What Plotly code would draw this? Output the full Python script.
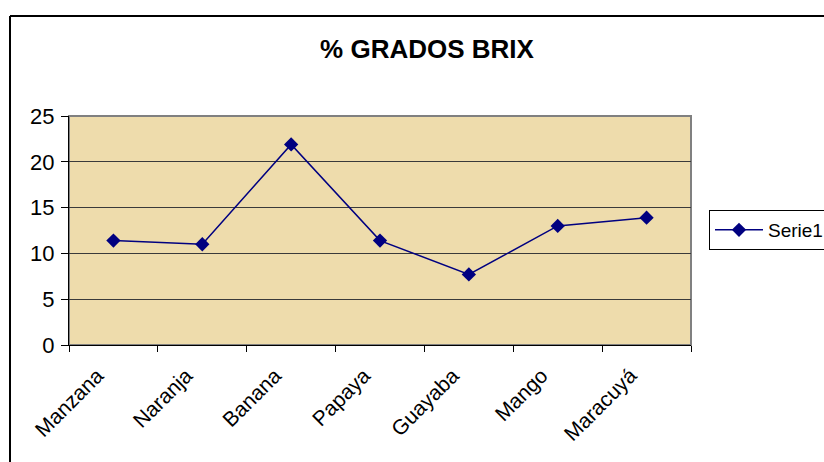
import plotly.graph_objects as go

frutas = ['Manzana', 'Naranja', 'Banana', 'Papaya', 'Guayaba', 'Mango', 'Maracuyá']
brix = [11.4, 11.0, 21.9, 11.4, 7.7, 13.0, 13.9]
serie = 'Serie1'
titulo = '% GRADOS BRIX'

W, H = 824, 462
L, R, T, B = 69, 133, 116, 117
pw, ph = W - L - R, H - T - B

fig = go.Figure()
fig.add_trace(go.Scatter(
    x=frutas, y=brix, name=serie, mode='lines+markers',
    line=dict(color='#000080', width=1.5),
    marker=dict(symbol='diamond', size=11, color='#000080'),
))

fig.update_layout(
    width=W, height=H,
    margin=dict(l=L, r=R, t=T, b=B, autoexpand=False),
    paper_bgcolor='white',
    plot_bgcolor='rgb(238,220,172)',
    font=dict(family='Arial, Liberation Sans', size=19, color='black'),
    title=dict(text='<b>' + titulo + '</b>', font=dict(size=26),
               xref='container', x=427 / W, xanchor='center',
               yref='container', y=1 - 49 / H, yanchor='middle'),
    showlegend=True,
    legend=dict(x=(709 - L) / pw, xanchor='left', y=(345 - 230) / ph, yanchor='middle',
                bordercolor='black', borderwidth=1, bgcolor='white',
                font=dict(size=19), itemwidth=48),
    xaxis=dict(type='category', range=[-0.5, 6.5], tickson='boundaries',
               ticks='outside', ticklen=6, tickcolor='black', tickangle=-45,
               tickfont=dict(size=21), ticklabelshift=-16, ticklabelstandoff=9,
               showline=True, linecolor='black', linewidth=1, showgrid=False),
    yaxis=dict(range=[0, 25], dtick=5, ticks='outside', ticklen=7, tickcolor='black',
               tickfont=dict(size=22), ticklabelstandoff=2,
               showline=True, linecolor='black', linewidth=1,
               showgrid=True, gridcolor='#3a3a3a', gridwidth=1, zeroline=False),
    shapes=[
        dict(type='rect', xref='paper', yref='paper', x0=0, x1=1, y0=0, y1=1,
             line=dict(color='#808080', width=2), layer='below'),
        dict(type='line', xref='paper', yref='paper',
             x0=(10 - L) / pw, x1=1.5, y0=1 + (T - 16) / ph, y1=1 + (T - 16) / ph,
             line=dict(color='black', width=2)),
        dict(type='line', xref='paper', yref='paper',
             x0=(10 - L) / pw, x1=(10 - L) / pw, y0=-1, y1=1 + (T - 16) / ph,
             line=dict(color='black', width=2)),
    ],
)

fig.write_html('out.html', config={'displayModeBar': False},
               post_script="document.body.style.margin='0';")
